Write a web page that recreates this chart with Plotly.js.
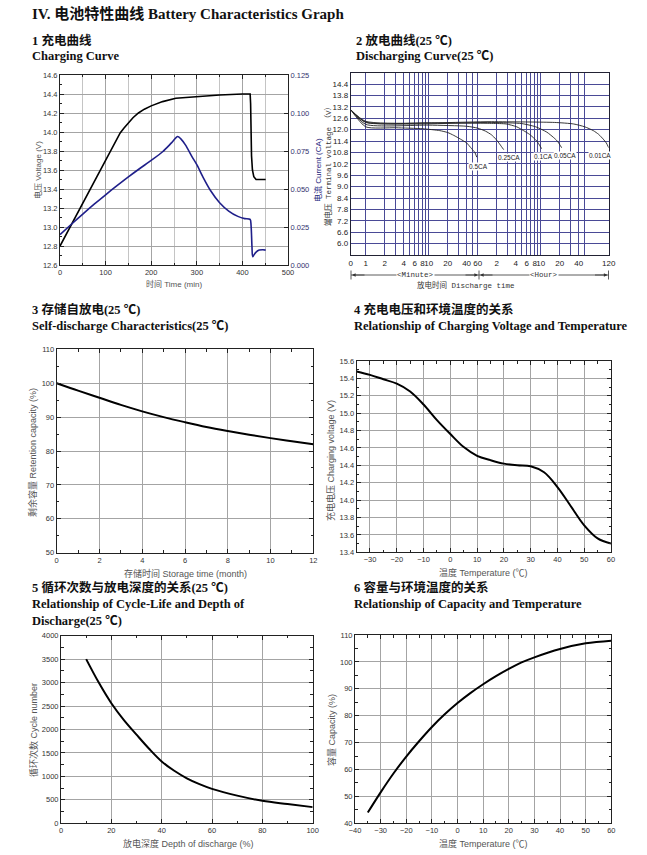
<!DOCTYPE html>
<html><head><meta charset="utf-8">
<script src="https://cdn.plot.ly/plotly-3.0.1.min.js"></script>
<style>html,body{margin:0;padding:0;background:#fff}#chart{width:647px;height:855px}</style>
</head><body><div id="chart"></div>
<script>
// ---------- Chart 1: Charging curve ----------
const chgVTime = [0, 100, 116, 125, 132, 140, 150, 160, 172, 185, 200, 225, 254, 300, 350, 400, 417, 418, 419, 420, 422, 425, 430, 451];
const chgVolt  = [12.8, 13.70, 13.85, 13.93, 13.99, 14.04, 14.10, 14.15, 14.20, 14.24, 14.275, 14.32, 14.355, 14.375, 14.39, 14.40, 14.40, 14.3, 14.0, 13.75, 13.6, 13.53, 13.5, 13.5];
const chgITime = [0, 25, 50, 75, 100, 125, 150, 175, 200, 225, 245, 258, 265, 275, 290, 300, 315, 330, 350, 370, 390, 405, 417, 419, 421, 422.5, 425, 430, 437, 445, 451];
const chgCurr  = [0.0200, 0.0268, 0.0335, 0.0400, 0.0462, 0.0522, 0.0580, 0.0635, 0.0688, 0.0745, 0.0805, 0.0845, 0.083, 0.079, 0.071, 0.066, 0.057, 0.049, 0.041, 0.0355, 0.032, 0.0305, 0.030, 0.026, 0.012, 0.0055, 0.0065, 0.0085, 0.0098, 0.0100, 0.0098];

// ---------- Chart 2: Discharging curves (time in minutes) ----------
const dis05Time  = [0.578, 1, 3, 8, 15, 20, 25, 32, 40, 48, 54, 58];
const dis05Volt  = [13.05, 12.15, 12.1, 12.05, 11.95, 11.85, 11.7, 11.5, 11.3, 11.0, 10.8, 10.55];
const dis025Time = [0.578, 1, 10, 40, 60, 80, 100, 115, 130, 145, 155];
const dis025Volt = [13.05, 12.28, 12.24, 12.18, 12.08, 11.92, 11.72, 11.52, 11.3, 11.08, 10.95];
const dis01Time  = [0.578, 1, 10, 100, 170, 250, 320, 400, 520, 620];
const dis01Volt  = [13.05, 12.38, 12.36, 12.33, 12.3, 12.15, 11.95, 11.75, 11.4, 11.0];
const dis005Time = [0.578, 1, 100, 300, 500, 750, 950, 1100, 1290];
const dis005Volt = [13.05, 12.4, 12.38, 12.32, 12.15, 11.87, 11.6, 11.4, 11.05];
const dis001Time = [0.578, 1, 100, 1000, 2000, 3000, 4100, 5000, 5900, 6600, 7200];
const dis001Volt = [13.05, 12.44, 12.42, 12.38, 12.3, 12.15, 11.95, 11.75, 11.5, 11.3, 11.05];
const disLabels  = ['0.5CA', '0.25CA', '0.1CA', '0.05CA', '0.01CA'];
const disTickVals = [0.578, 1, 2, 3, 4, 5, 6, 7, 8, 9, 10, 20, 30, 40, 50, 60, 120, 180, 240, 300, 360, 420, 480, 540, 600, 1200, 1800, 2400, 3000, 7200];
const disTickText = ['0', '1', '2', '', '4', '', '6', '', '8', '', '10', '20', '', '40', '', '60', '2', '', '4', '', '6', '', '8', '', '10', '20', '', '40', '', '120'];
const disVoltTicks = [6.0, 6.6, 7.2, 7.8, 8.4, 9.0, 9.6, 10.2, 10.8, 11.4, 12.0, 12.6, 13.2, 13.8, 14.4];

// ---------- Chart 3: Self-discharge ----------
const sdMonth = [0, 1, 2, 3, 4, 5, 6, 7, 8, 9, 10, 11, 12];
const sdCap   = [100, 97.8, 95.7, 93.6, 91.7, 90.0, 88.5, 87.1, 85.9, 84.8, 83.8, 82.9, 82.0];

// ---------- Chart 4: Charging voltage vs temperature ----------
const cvTemp = [-35, -30, -25, -20, -15, -10, -5, 0, 5, 10, 15, 20, 25, 30, 35, 40, 45, 50, 55, 60];
const cvVolt = [15.48, 15.44, 15.39, 15.34, 15.25, 15.1, 14.92, 14.76, 14.61, 14.51, 14.46, 14.42, 14.40, 14.39, 14.32, 14.15, 13.93, 13.71, 13.56, 13.5];

// ---------- Chart 5: Cycle life vs DOD ----------
const clDod    = [10, 15, 20, 25, 30, 35, 40, 45, 50, 55, 60, 70, 80, 90, 100];
const clCycles = [3500, 3000, 2560, 2200, 1890, 1590, 1320, 1120, 960, 835, 735, 590, 480, 410, 345];

// ---------- Chart 6: Capacity vs temperature ----------
const ctTemp = [-35, -30, -25, -20, -15, -10, -5, 0, 5, 10, 15, 20, 25, 30, 40, 50, 60];
const ctCap  = [44, 51.5, 58.5, 64.8, 70.5, 75.8, 80.5, 84.7, 88.4, 91.7, 94.7, 97.4, 99.8, 101.7, 104.8, 106.9, 107.9];

// ---------- layout helpers ----------
const W = 647, H = 855;
const px = v => v / W, py = v => 1 - v / H;
const SERIF = '"Liberation Serif", "Noto Sans CJK SC", serif';
const SANS = '"Liberation Sans", "Noto Sans CJK SC", sans-serif';
const MONO = '"Liberation Mono", "Noto Sans CJK SC", monospace';
const NARROW = '"Liberation Sans Narrow", "Liberation Sans", sans-serif';

function ax(l, r, extra) {
  return Object.assign({
    domain: [px(l), px(r)], showline: true, linecolor: '#222', linewidth: 1, mirror: 'ticks',
    ticks: 'inside', ticklen: 4, tickcolor: '#222', showgrid: true, gridcolor: '#a4a4a4', gridwidth: 1,
    zeroline: false, tickfont: {family: SANS, size: 7.5, color: '#333'}, tickangle: 0, fixedrange: true
  }, extra);
}
function ay(t, b, extra) {
  return Object.assign({
    domain: [py(b), py(t)], showline: true, linecolor: '#222', linewidth: 1, mirror: 'ticks',
    ticks: 'inside', ticklen: 4, tickcolor: '#222', showgrid: true, gridcolor: '#a4a4a4', gridwidth: 1,
    zeroline: false, tickfont: {family: SANS, size: 7.5, color: '#333'}, fixedrange: true
  }, extra);
}
const anns = [];
function txt(text, x, y, o) {
  o = o || {};
  anns.push({text, xref: 'paper', yref: 'paper', x: px(x), y: py(y), showarrow: false,
    xanchor: o.xanchor || 'left', yanchor: 'middle', textangle: o.angle || 0,
    bgcolor: o.bg || 'rgba(0,0,0,0)', borderpad: 0,
    font: {family: o.family || SERIF, size: o.size || 12.5, color: o.color || '#111'}});
}

// titles
txt('<b>IV. 电池特性曲线 Battery Characteristics Graph</b>', 31, 14, {size: 15});
txt('<b>1 充电曲线</b>', 31, 40); txt('<b>Charging Curve</b>', 31, 56);
txt('<b>2 放电曲线(25 ℃)</b>', 355, 40); txt('<b>Discharging Curve(25 ℃)</b>', 355, 56);
txt('<b>3 存储自放电(25 ℃)</b>', 31, 309); txt('<b>Self-discharge Characteristics(25 ℃)</b>', 31, 325.5);
txt('<b>4 充电电压和环境温度的关系</b>', 353, 309); txt('<b>Relationship of Charging Voltage and Temperature</b>', 353, 325.5);
txt('<b>5 循环次数与放电深度的关系(25 ℃)</b>', 31, 587.5); txt('<b>Relationship of Cycle-Life and Depth of</b>', 31, 604); txt('<b>Discharge(25 ℃)</b>', 31, 620.5);
txt('<b>6 容量与环境温度的关系</b>', 353, 587.5); txt('<b>Relationship of Capacity and Temperature</b>', 353, 604);

// axis titles
const AT = {family: SANS, size: 8.5, color: '#555', xanchor: 'center'};
txt('时间 Time (min)', 174, 284, Object.assign({}, AT, {size: 8}));
txt('电压 Voltage (V)', 38, 170, Object.assign({}, AT, {size: 8, angle: -90}));
txt('电流 Current (CA)', 318, 170, Object.assign({}, AT, {size: 8, angle: -90, color: '#2a2a80'}));
txt('放电时间 Discharge time', 466, 285, {family: MONO, size: 7.5, color: '#333', xanchor: 'center'});
txt('端电压 Terminal voltage （V）', 328, 165, {family: MONO, size: 7.5, color: '#333', xanchor: 'center', angle: -90});
txt('存储时间 Storage time (month)', 185, 573, Object.assign({}, AT, {size: 9}));
txt('剩余容量 Retention capacity (%)', 32, 453, Object.assign({}, AT, {size: 9, angle: -90}));
txt('温度 Temperature (℃)', 483, 572, Object.assign({}, AT, {size: 9}));
txt('充电电压 Charging voltage (V)', 330, 460, Object.assign({}, AT, {size: 9, angle: -90}));
txt('放电深度 Depth of discharge (%)', 188, 843, Object.assign({}, AT, {size: 9}));
txt('循环次数 Cycle number', 33, 730, Object.assign({}, AT, {size: 9, angle: -90}));
txt('温度 Temperature (℃)', 483, 843, Object.assign({}, AT, {size: 9}));
txt('容量 Capacity (%)', 331, 730, Object.assign({}, AT, {size: 9, angle: -90}));

// discharge curve labels
const labPos = [[479, 166], [509, 157.5], [543, 156.5], [565, 155], [600, 155]];
disLabels.forEach((t, i) => txt(t, labPos[i][0], labPos[i][1], {family: NARROW, size: 6.5, color: '#222', xanchor: 'center', bg: '#fff'}));

// minute / hour bracket
txt('&lt;Minute&gt;', 415, 275, {family: MONO, size: 7.5, color: '#333', xanchor: 'center', bg: '#fff'});
txt('&lt;Hour&gt;', 544, 275, {family: MONO, size: 7.5, color: '#333', xanchor: 'center', bg: '#fff'});
const shapes = [];
function seg(x0, y0, x1, y1) {
  shapes.push({type: 'line', xref: 'paper', yref: 'paper', x0: px(x0), y0: py(y0), x1: px(x1), y1: py(y1), line: {color: '#333', width: 0.8}, layer: 'below'});
}
seg(351, 275, 608.5, 275);
[351, 479, 608.5].forEach(x => seg(x, 270.5, x, 279.5));
[[352, 14], [478, -14], [480, 14], [607.5, -14]].forEach(([x, d]) => anns.push({
  xref: 'paper', yref: 'paper', x: px(x), y: py(275), ax: d, ay: 0, text: '', showarrow: true,
  arrowhead: 2, arrowsize: 0.9, arrowwidth: 0.8, arrowcolor: '#333'}));

const line = (x, y, xa, ya, color, w, sm) => ({x, y, xaxis: xa, yaxis: ya, type: 'scatter', mode: 'lines',
  line: sm === 0 ? {color: color, width: w} : {color: color || '#000', width: w || 2, shape: 'spline', smoothing: sm || 1},
  hoverinfo: 'skip', showlegend: false});

const data = [
  line(chgVTime, chgVolt, 'x', 'y', '#000', 1.6, 0),
  line(chgITime, chgCurr, 'x', 'y7', '#1f1f8a', 1.6, 0.8),
  line(dis05Time, dis05Volt, 'x2', 'y2', '#222', 0.9, 0.6),
  line(dis025Time, dis025Volt, 'x2', 'y2', '#222', 0.9, 0.6),
  line(dis01Time, dis01Volt, 'x2', 'y2', '#222', 0.9, 0.6),
  line(dis005Time, dis005Volt, 'x2', 'y2', '#222', 0.9, 0.6),
  line(dis001Time, dis001Volt, 'x2', 'y2', '#222', 0.9, 0.6),
  line(sdMonth, sdCap, 'x3', 'y3', '#000', 2, 1),
  line(cvTemp, cvVolt, 'x4', 'y4', '#000', 2, 1),
  line(clDod, clCycles, 'x5', 'y5', '#000', 2, 1),
  line(ctTemp, ctCap, 'x6', 'y6', '#000', 2, 1)
];

const NAVY = '#4a4a96';
const layout = {
  width: W, height: H, margin: {l: 0, r: 0, t: 0, b: 0}, paper_bgcolor: '#fff', plot_bgcolor: '#fff',
  showlegend: false, annotations: anns, shapes: shapes,
  // chart 1
  xaxis: ax(60, 288, {anchor: 'y', range: [0, 500], dtick: 100, minor: {dtick: 50, showgrid: true, gridcolor: '#c4c4c4', ticks: 'inside', ticklen: 2}}),
  yaxis: ay(75, 265, {anchor: 'x', range: [12.6, 14.6], dtick: 0.2, tickformat: '.1f', mirror: false, minor: {dtick: 0.1, ticks: 'inside', ticklen: 2}}),
  yaxis7: {overlaying: 'y', side: 'right', anchor: 'x', range: [0, 0.125], dtick: 0.025, tickformat: '.3f',
    showline: true, linecolor: '#222', ticks: 'inside', ticklen: 4, tickcolor: '#222', showgrid: false, zeroline: false,
    tickfont: {family: SANS, size: 7.5, color: '#33336e'}, fixedrange: true},
  // chart 2
  xaxis2: ax(350.7, 608.7, {anchor: 'y2', type: 'log', range: [Math.log10(0.578), Math.log10(7200)],
    tickmode: 'array', tickvals: disTickVals, ticktext: disTickText, ticks: '', gridcolor: NAVY, linecolor: '#223',
    tickfont: {family: NARROW, size: 8, color: '#222'}}),
  yaxis2: ay(72.7, 255, {anchor: 'x2', range: [5.4, 15.0], tickmode: 'array', tickvals: disVoltTicks,
    ticktext: disVoltTicks.map(v => v.toFixed(1)), ticks: '', gridcolor: NAVY, linecolor: '#223',
    tickfont: {family: NARROW, size: 8, color: '#222'}}),
  // chart 3
  xaxis3: ax(56.7, 313.3, {anchor: 'y3', range: [0, 12], dtick: 2, minor: {dtick: 1, ticks: 'inside', ticklen: 2.5}}),
  yaxis3: ay(349.3, 552.7, {anchor: 'x3', range: [50, 110], dtick: 10, minor: {dtick: 5, ticks: 'inside', ticklen: 2.5}}),
  // chart 4
  xaxis4: ax(356.6, 611, {anchor: 'y4', range: [-35, 60], dtick: 10, minor: {dtick: 5, ticks: 'inside', ticklen: 2.5}}),
  yaxis4: ay(361, 552.3, {anchor: 'x4', range: [13.4, 15.6], dtick: 0.2, tickformat: '.1f', minor: {dtick: 0.1, ticks: 'inside', ticklen: 2.5}}),
  // chart 5
  xaxis5: ax(61, 312.7, {anchor: 'y5', range: [0, 100], dtick: 20, minor: {dtick: 10, ticks: 'inside', ticklen: 2.5}}),
  yaxis5: ay(635.7, 823.3, {anchor: 'x5', range: [0, 4000], dtick: 500, minor: {dtick: 250, ticks: 'inside', ticklen: 2.5}}),
  // chart 6
  xaxis6: ax(355, 611.3, {anchor: 'y6', range: [-40, 60], dtick: 10, minor: {dtick: 5, ticks: 'inside', ticklen: 2.5}}),
  yaxis6: ay(635, 823.3, {anchor: 'x6', range: [40, 110], dtick: 10, minor: {dtick: 5, ticks: 'inside', ticklen: 2.5}})
};

Plotly.newPlot('chart', data, layout, {displayModeBar: false, staticPlot: true});
</script></body></html>
